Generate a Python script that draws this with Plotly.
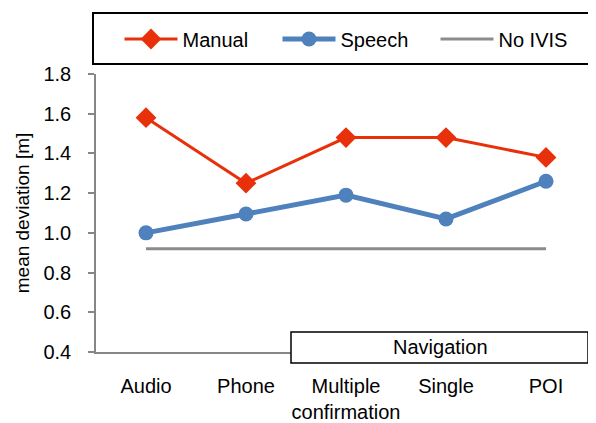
import plotly.graph_objects as go

categories = ["Audio", "Phone", "Multiple<br>confirmation", "Single", "POI"]
manual = [1.58, 1.25, 1.48, 1.48, 1.38]
speech = [1.00, 1.095, 1.19, 1.07, 1.26]
no_ivis = [0.92, 0.92, 0.92, 0.92, 0.92]
yticks = [0.4, 0.6, 0.8, 1.0, 1.2, 1.4, 1.6, 1.8]
ytick_labels = ["0.4", "0.6", "0.8", "1.0", "1.2", "1.4", "1.6", "1.8"]

FONT = "Liberation Sans, Arial, sans-serif"
RED = "#E8300A"
BLUE = "#4F81BD"
GRAY = "#8C8C8C"
FS = 20

# the page body adds an 8px offset; the figure is sized to compensate
OFF = 8

fig = go.Figure()
fig.add_trace(go.Scatter(x=categories, y=manual, name="Manual", mode="lines+markers",
                         line=dict(color=RED, width=3),
                         marker=dict(symbol="diamond", size=16, color=RED)))
fig.add_trace(go.Scatter(x=categories, y=speech, name="Speech", mode="lines+markers",
                         line=dict(color=BLUE, width=5),
                         marker=dict(symbol="circle", size=15, color=BLUE)))
fig.add_trace(go.Scatter(x=categories, y=no_ivis, name="No IVIS", mode="lines",
                         line=dict(color=GRAY, width=3)))

fig.update_layout(
    width=596 - OFF, height=423 - OFF,
    margin=dict(l=96 - OFF, r=0, t=74 - OFF, b=71),
    paper_bgcolor="white", plot_bgcolor="white",
    font=dict(family=FONT, size=FS, color="#000000"),
    showlegend=True,
    legend=dict(orientation="h", x=0.047, xanchor="left", y=(352-39)/278, yanchor="middle",
                font=dict(size=FS), itemwidth=53, entrywidth=90,
                bgcolor="rgba(0,0,0,0)"),
    xaxis=dict(showgrid=False, showline=True, linecolor="#868686", linewidth=2,
               ticks="", tickfont=dict(size=FS), ticklabelstandoff=15,
               range=[-0.5, 4.5], zeroline=False, automargin=False),
    yaxis=dict(range=[0.4, 1.8], tickvals=yticks, ticktext=ytick_labels,
               showgrid=False, showline=True, linecolor="#868686", linewidth=1.5,
               ticks="outside", ticklen=6, tickcolor="#868686", tickwidth=1.5,
               tickfont=dict(size=FS), ticklabelstandoff=13, zeroline=False,
               automargin=False,
               title=dict(text="mean deviation [m]", font=dict(size=FS - 1), standoff=9)),
    shapes=[
        dict(type="rect", xref="paper", yref="paper",
             x0=-0.006, x1=1.02, y0=(352-64)/278, y1=(352-13)/278,
             line=dict(color="black", width=2), fillcolor="rgba(0,0,0,0)", layer="above"),
        dict(type="rect", xref="paper", yref="paper",
             x0=(291-96)/500, x1=(588-96)/500, y0=(352-363)/278, y1=(352-332)/278,
             line=dict(color="black", width=1.5), fillcolor="white", layer="above"),
    ],
    annotations=[
        dict(text="Navigation", xref="paper", yref="paper",
             x=(440-96)/500, y=(352-347)/278, xanchor="center", yanchor="middle",
             showarrow=False, font=dict(size=FS)),
    ],
)

fig.write_html("out.html")
